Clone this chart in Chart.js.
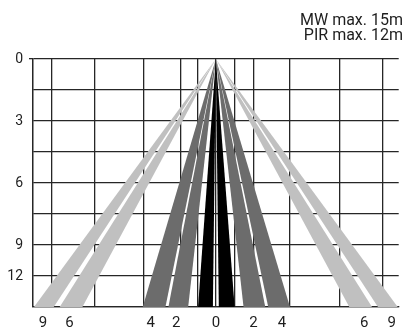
<!DOCTYPE html>
<html>
<head>
<meta charset="utf-8">
<script src="https://cdn.jsdelivr.net/npm/chart.js@4.4.1/dist/chart.umd.min.js"></script>
<style>
  html, body { margin: 0; padding: 0; background: #ffffff; }
  #wrap { width: 403px; height: 332px; }
</style>
</head>
<body>
<div id="wrap"><canvas id="c" width="403" height="332"></canvas></div>
<script>
// ---- data (schematic units: x = lateral spread, y = grid rows from sensor) ----
const titleLines = ['MW max. 15m', 'PIR max. 12m'];
const xGridLines = [-18.5, -16.6, -12.3, -7.3, -3.6, -1.8, 0, 1.9, 3.8, 7.5, 12.5, 16.9];
const xTickPositions = [-17.5, -14.8, -6.6, -4.0, 0, 3.8, 6.7, 15.0, 17.8];
const xTickLabels = ['9', '6', '4', '2', '0', '2', '4', '6', '9'];
const yTickPositions = [0, 2, 4, 6, 7];
const yTickLabels = ['0', '3', '6', '9', '12'];
const yRows = 8;
const apexX = 0;
// beams, ordered top-most first
const beamShade = ['black', 'black', 'dark', 'dark', 'dark', 'dark', 'light', 'light', 'light', 'light'];
const beamLeft  = [-1.8, 0.3, -7.4, -4.8, 2.8, 5.3, -18.4, -15.8, 13.5, 16.4];
const beamRight = [-0.3, 1.9, -5.1, -2.8, 5.0, 7.5, -16.4, -13.5, 15.8, 18.4];

// ---- styles ----
const shadeColor = { black: '#000000', dark: '#6c6c6c', light: '#c0c0c0' };
const gridColor = '#262626';
const textColor = '#1e1e1e';
const fontFamily = 'Roboto, "Liberation Sans", sans-serif';

const datasets = beamShade.map((shade, i) => ({
  data: [
    { x: apexX, y: 0 },
    { x: beamLeft[i], y: yRows },
    { x: beamRight[i], y: yRows },
    { x: apexX, y: 0 }
  ],
  showLine: true,
  fill: 'shape',
  backgroundColor: shadeColor[shade],
  borderColor: 'rgba(0,0,0,0)',
  borderWidth: 0,
  pointRadius: 0,
  tension: 0
}));

const near = (a, b) => Math.abs(a - b) < 1e-6;

new Chart(document.getElementById('c'), {
  type: 'scatter',
  data: { datasets },
  options: {
    responsive: false,
    animation: false,
    events: [],
    layout: { padding: 0 },
    plugins: {
      legend: { display: false },
      tooltip: { enabled: false },
      title: {
        display: true,
        text: titleLines,
        align: 'end',
        color: textColor,
        font: { family: fontFamily, size: 16, weight: 'normal', lineHeight: 0.94 },
        padding: { top: 13, bottom: 16 }
      }
    },
    scales: {
      x: {
        type: 'linear',
        position: 'bottom',
        min: -18.5,
        max: 18.5,
        afterBuildTicks: (scale) => {
          const vals = Array.from(new Set([...xGridLines, ...xTickPositions])).sort((a, b) => a - b);
          scale.ticks = vals.map(v => ({ value: v }));
        },
        afterFit: (scale) => { scale.height = 25; },
        grid: {
          drawTicks: false,
          lineWidth: 1.3,
          color: (ctx) => (ctx.tick && xGridLines.some(g => near(g, ctx.tick.value))) ? gridColor : 'rgba(0,0,0,0)'
        },
        border: { display: true, color: gridColor, width: 1.3 },
        ticks: {
          autoSkip: false,
          maxRotation: 0,
          minRotation: 0,
          padding: 7,
          color: textColor,
          font: { family: fontFamily, size: 15 },
          callback: (value) => {
            const idx = xTickPositions.findIndex(p => near(p, value));
            return idx >= 0 ? xTickLabels[idx] : '';
          }
        }
      },
      y: {
        type: 'linear',
        reverse: true,
        min: 0,
        max: yRows,
        afterFit: (scale) => { scale.width = 33; },
        grid: {
          drawTicks: true,
          tickLength: 4,
          lineWidth: 1.3,
          color: gridColor,
          tickColor: (ctx) => (ctx.tick && ctx.tick.value === 0) ? gridColor : 'rgba(0,0,0,0)'
        },
        border: { display: true, color: gridColor, width: 1.3 },
        ticks: {
          stepSize: 1,
          autoSkip: false,
          padding: 6,
          color: textColor,
          font: { family: fontFamily, size: 14 },
          callback: (value) => {
            const idx = yTickPositions.findIndex(p => near(p, value));
            return idx >= 0 ? yTickLabels[idx] : '';
          }
        }
      }
    }
  }
});
</script>
</body>
</html>
